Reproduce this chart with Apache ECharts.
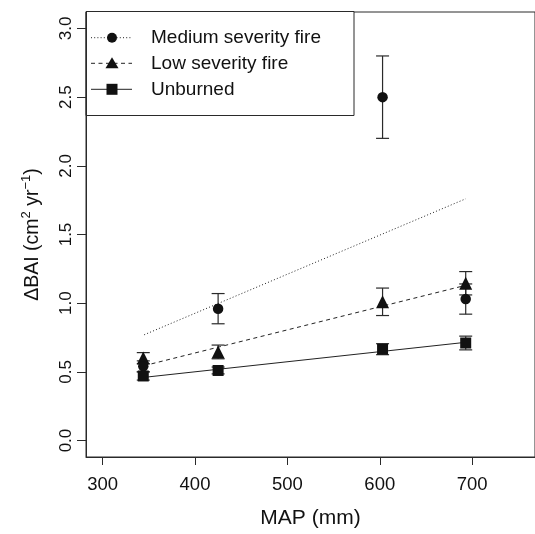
<!DOCTYPE html>
<html>
<head>
<meta charset="utf-8">
<script src="https://cdn.jsdelivr.net/npm/echarts@6/dist/echarts.min.js"></script>
<style>
html,body{margin:0;padding:0;background:#fff;}
#chart{width:535px;height:534px;}
</style>
</head>
<body>
<div id="chart"></div>
<script>
// ---- data ----
const seriesNames = ['Medium severity fire', 'Low severity fire', 'Unburned'];
const mapX = [344, 425, 603, 693];
const medium = [0.54, 0.96, 2.50, 1.03];
const mediumErr = [0.04, 0.11, 0.30, 0.11];
const low = [0.60, 0.645, 1.01, 1.145];
const lowErr = [0.04, 0.05, 0.10, 0.085];
const unburned = [0.47, 0.51, 0.665, 0.71];
const unburnedErr = [0.03, 0.025, 0.04, 0.05];
const fitX = [345, 693];
const fitMedium = [0.77, 1.76];
const fitLow = [0.545, 1.13];
const fitUnburned = [0.46, 0.715];
const xTicks = [300, 400, 500, 600, 700];
const yTicks = [0, 0.5, 1, 1.5, 2, 2.5, 3];

const FONT = '"Liberation Sans", Arial, Helvetica, sans-serif';
const INK = '#111';
const AX = '#2a2a2a';

const chart = echarts.init(document.getElementById('chart'), null, {renderer: 'canvas'});

function pairs(xs, ys) { return xs.map((x, i) => [x, ys[i]]); }
function errData(xs, ys, es) { return xs.map((x, i) => [x, ys[i] - es[i], ys[i] + es[i]]); }

function errSeries(data) {
  return {
    type: 'custom',
    data: data,
    encode: {x: 0, y: [1, 2]},
    z: 3,
    silent: true,
    renderItem: function (params, api) {
      const x = api.value(0);
      const lo = api.coord([x, api.value(1)]);
      const hi = api.coord([x, api.value(2)]);
      const w = 6.5;
      const st = {stroke: AX, lineWidth: 1.2};
      return {
        type: 'group',
        children: [
          {type: 'line', shape: {x1: lo[0], y1: lo[1], x2: hi[0], y2: hi[1]}, style: st},
          {type: 'line', shape: {x1: lo[0] - w, y1: lo[1], x2: lo[0] + w, y2: lo[1]}, style: st},
          {type: 'line', shape: {x1: hi[0] - w, y1: hi[1], x2: hi[0] + w, y2: hi[1]}, style: st}
        ]
      };
    }
  };
}

function fitSeries(ys, dash) {
  return {
    type: 'line', data: pairs(fitX, ys), symbol: 'none', silent: true, z: 2,
    lineStyle: {color: '#222', width: 1, type: dash}
  };
}

function pointSeries(ys, symbol, size) {
  return {
    type: 'scatter', data: pairs(mapX, ys), symbol: symbol, symbolSize: size, z: 4,
    itemStyle: {color: INK, opacity: 1}, silent: true
  };
}

// legend drawn as graphic
const legendRows = [37.7, 63.3, 89.3];
const legendDash = [[1, 2.2], [4, 3.5], null];
function legendSymbol(i, cx, cy) {
  if (i === 0) return {type: 'circle', shape: {cx: cx, cy: cy, r: 5}, style: {fill: INK}};
  if (i === 1) return {type: 'polygon', shape: {points: [[cx, cy - 6], [cx + 6.5, cy + 5], [cx - 6.5, cy + 5]]}, style: {fill: INK}};
  return {type: 'rect', shape: {x: cx - 5.5, y: cy - 5.5, width: 11, height: 11}, style: {fill: INK}};
}
const legendChildren = [
  {type: 'rect', shape: {x: 86, y: 11.5, width: 268, height: 104}, style: {fill: '#fff', stroke: AX, lineWidth: 1}}
];
seriesNames.forEach((name, i) => {
  const y = legendRows[i];
  legendChildren.push({type: 'line', shape: {x1: 91, y1: y, x2: 132, y2: y},
    style: {stroke: '#222', lineWidth: 1, lineDash: legendDash[i] || null}});
  legendChildren.push(legendSymbol(i, 112, y));
  legendChildren.push({type: 'text', x: 151, y: y, style: {text: name, font: '19px ' + FONT, fill: INK, verticalAlign: 'middle', textAlign: 'left'}});
});

chart.setOption({
  animation: false,
  backgroundColor: '#fff',
  grid: {left: 86, top: 12, width: 451, height: 450, show: true, borderColor: AX, borderWidth: 1, backgroundColor: 'transparent'},
  xAxis: {
    type: 'value', min: 282, max: 768,
    name: 'MAP (mm)', nameLocation: 'middle', nameGap: 51,
    nameTextStyle: {fontFamily: FONT, fontSize: 21, color: INK},
    axisLine: {show: true, onZero: false, lineStyle: {color: AX, width: 1}},
    axisTick: {show: true, length: 8, inside: false, customValues: xTicks, lineStyle: {color: AX}},
    axisLabel: {customValues: xTicks, fontFamily: FONT, fontSize: 18.5, color: INK, margin: 18},
    splitLine: {show: false}
  },
  yAxis: {
    type: 'value', min: -0.12, max: 3.12,
    name: 'ΔBAI (cm{sup|2} yr{sup|−1})', nameLocation: 'middle', nameGap: 40, nameRotate: 90,
    nameTextStyle: {fontFamily: FONT, fontSize: 19.5, color: INK, lineHeight: 26,
      rich: {sup: {fontFamily: FONT, fontSize: 13, lineHeight: 13, verticalAlign: 'top', color: INK}}},
    axisLine: {show: true, onZero: false, lineStyle: {color: AX, width: 1}},
    axisTick: {show: true, length: 9, inside: false, customValues: yTicks, lineStyle: {color: AX}},
    axisLabel: {customValues: yTicks, rotate: 90, fontFamily: FONT, fontSize: 17, color: INK, margin: 11,
      formatter: v => v.toFixed(1)},
    splitLine: {show: false}
  },
  series: [
    fitSeries(fitMedium, [1, 2.2]),
    fitSeries(fitLow, [4, 3.5]),
    fitSeries(fitUnburned, 'solid'),
    errSeries(errData(mapX, unburned, unburnedErr)),
    errSeries(errData(mapX, low, lowErr)),
    errSeries(errData(mapX, medium, mediumErr)),
    pointSeries(unburned, 'rect', 11),
    pointSeries(low, 'triangle', 13),
    pointSeries(medium, 'circle', 10.5)
  ],
  graphic: [{type: 'group', z: 100, children: legendChildren}]
});
</script>
</body>
</html>
